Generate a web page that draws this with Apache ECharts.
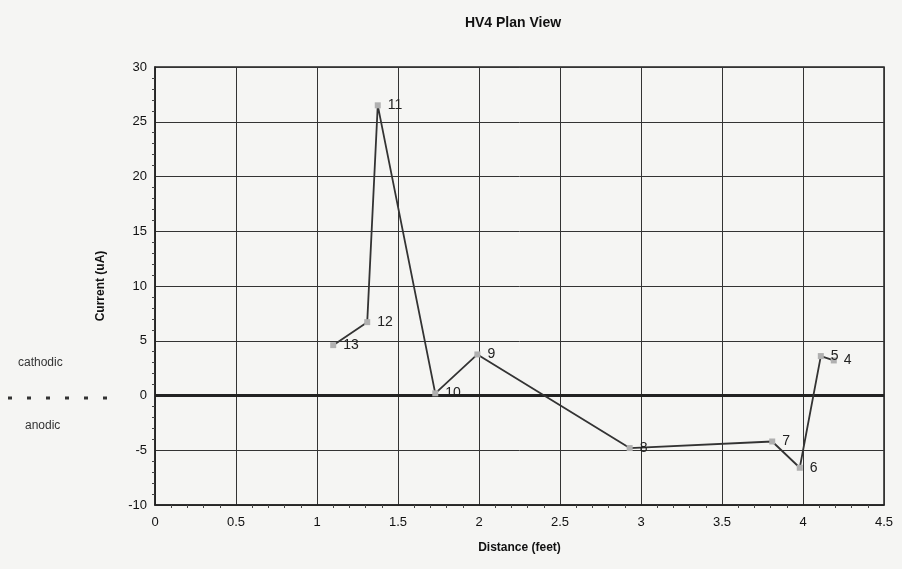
<!DOCTYPE html>
<html>
<head>
<meta charset="utf-8">
<script src="https://cdn.jsdelivr.net/npm/echarts@6/dist/echarts.min.js"></script>
<style>
  body { margin: 0; background: #f5f5f3; }
  #chart { width: 902px; height: 569px; }
</style>
</head>
<body>
<div id="chart"></div>
<script>
// point labels, in the order the line is drawn
var pointLabels = ['4', '5', '6', '7', '8', '9', '10', '11', '12', '13']
var distance = [4.19, 4.11, 3.98, 3.81, 2.93, 1.99, 1.73, 1.375, 1.31, 1.10]
var current = [3.2, 3.6, -6.6, -4.2, -4.8, 3.75, 0.2, 26.5, 6.7, 4.6]
var xTicks = [0, 0.5, 1, 1.5, 2, 2.5, 3, 3.5, 4, 4.5]
var yTicks = [-10, -5, 0, 5, 10, 15, 20, 25, 30]

var points = distance.map(function (d, i) {
  return { value: [d, current[i]], name: pointLabels[i] }
})

var font = 'Liberation Sans, Arial, sans-serif'

var myChart = echarts.init(document.getElementById('chart'))
myChart.setOption({
  animation: false,
  backgroundColor: '#f5f5f3',
  title: {
    text: 'HV4 Plan View',
    left: 508,
    top: 11,
    textAlign: 'center',
    textStyle: { fontFamily: font, fontSize: 14, fontWeight: 'bold', color: '#111' }
  },
  grid: { left: 155, right: 18, top: 67, bottom: 64 },
  xAxis: {
    type: 'value',
    min: xTicks[0],
    max: xTicks[xTicks.length - 1],
    interval: 0.5,
    name: 'Distance (feet)',
    nameLocation: 'middle',
    nameGap: 37,
    nameTextStyle: { fontFamily: font, fontSize: 12, fontWeight: 'bold', color: '#111' },
    axisLine: { onZero: false, lineStyle: { color: '#222', width: 1.5 } },
    axisTick: { show: false },
    minorTick: { show: true, splitNumber: 5, length: 3, lineStyle: { color: '#444' } },
    axisLabel: { fontFamily: font, fontSize: 13, color: '#111', margin: 11 },
    splitLine: { show: true, lineStyle: { color: '#333', width: 1 } }
  },
  yAxis: {
    type: 'value',
    min: yTicks[0],
    max: yTicks[yTicks.length - 1],
    interval: 5,
    name: 'Current (uA)',
    nameLocation: 'middle',
    nameGap: 48,
    nameTextStyle: { fontFamily: font, fontSize: 12, fontWeight: 'bold', color: '#111' },
    axisLine: { lineStyle: { color: '#222', width: 1.5 } },
    axisTick: { show: false },
    minorTick: { show: true, splitNumber: 5, length: 3, lineStyle: { color: '#444' } },
    axisLabel: { fontFamily: font, fontSize: 13, color: '#111', margin: 8 },
    splitLine: { show: true, lineStyle: { color: '#333', width: 1 } }
  },
  graphic: [
    { type: 'text', left: 18, top: 357, style: { text: 'cathodic', fontFamily: font, fontSize: 12, fill: '#333' } },
    { type: 'text', left: 25, top: 420, style: { text: 'anodic', fontFamily: font, fontSize: 12, fill: '#333' } },
    {
      type: 'line',
      shape: { x1: 8, y1: 398, x2: 112, y2: 398 },
      style: { stroke: '#333', lineWidth: 3, lineDash: [4, 15] }
    },
    {
      type: 'rect',
      shape: { x: 155, y: 67, width: 729, height: 438 },
      style: { fill: 'none', stroke: '#222', lineWidth: 1.5 },
      silent: true
    }
  ],
  series: [{
    type: 'line',
    data: points,
    symbol: 'rect',
    symbolSize: 6,
    itemStyle: { color: '#b0b0b0' },
    lineStyle: { color: '#333', width: 1.8 },
    label: {
      show: true,
      position: 'right',
      distance: 7,
      formatter: '{b}',
      fontFamily: font,
      fontSize: 14,
      color: '#222'
    },
    markLine: {
      silent: true,
      symbol: 'none',
      label: { show: false },
      lineStyle: { color: '#222', width: 3, type: 'solid' },
      data: [{ yAxis: 0 }]
    },
    z: 5
  }]
})
window.addEventListener('resize', function () {
  myChart.resize()
})
</script>
</body>
</html>
